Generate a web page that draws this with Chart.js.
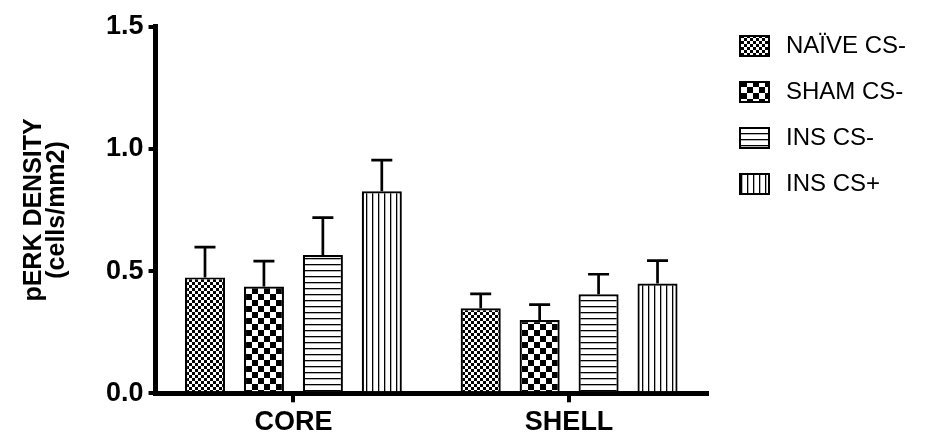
<!DOCTYPE html>
<html lang="en">
  <head>
    <meta charset="UTF-8" />
    <title>pERK density</title>
    <script src="https://cdn.jsdelivr.net/npm/chart.js@4.4.1/dist/chart.umd.min.js"></script>
    <style>
      body {
        margin: 0;
        background: #ffffff;
      }
    </style>
  </head>
  <body>
    <canvas id="perkChart" width="940" height="434"></canvas>
    <script>
      // data
      const regions = ["CORE", "SHELL"];
      const groups = ["NAÏVE CS-", "SHAM CS-", "INS CS-", "INS CS+"];
      const naiveMeans = [0.474, 0.348];
      const shamMeans = [0.437, 0.300];
      const insMinusMeans = [0.566, 0.405];
      const insPlusMeans = [0.826, 0.449];
      const naiveErr = [0.124, 0.059];
      const shamErr = [0.104, 0.063];
      const insMinusErr = [0.153, 0.082];
      const insPlusErr = [0.128, 0.094];
      const yTicks = [0, 0.5, 1.0, 1.5];

      const font = "'Liberation Sans', Arial, sans-serif";

      // pattern tiles
      function makeTile(kind) {
        const c = document.createElement("canvas");
        const p = c.getContext("2d");
        const n = kind === "bigCheck" ? 12 : 6;
        c.width = n; c.height = n;
        p.fillStyle = "#fff"; p.fillRect(0, 0, n, n);
        p.fillStyle = "#000";
        if (kind === "fineCheck" || kind === "bigCheck") {
          p.fillRect(0, 0, n / 2, n / 2); p.fillRect(n / 2, n / 2, n / 2, n / 2);
        } else if (kind === "hLines") {
          p.fillRect(0, 0, n, 1.3);
        } else {
          p.fillRect(0, 0, 1.3, n);
        }
        return c;
      }

      // little legend swatch: blank margin on the left, then the hatched box
      function makeSwatch(tile) {
        const c = document.createElement("canvas");
        c.width = 45; c.height = 22;
        const p = c.getContext("2d");
        p.fillStyle = p.createPattern(tile, "repeat");
        p.fillRect(10, 0, 31, 22);
        p.strokeStyle = "#000";
        p.lineWidth = 2;
        p.strokeRect(11, 1, 29, 20);
        return c;
      }

      const seriesMeans = [naiveMeans, shamMeans, insMinusMeans, insPlusMeans];
      const seriesErr = [naiveErr, shamErr, insMinusErr, insPlusErr];
      const fills = ["fineCheck", "bigCheck", "hLines", "vLines"];

      const canvas = document.getElementById("perkChart");
      const ctx = canvas.getContext("2d");

      const datasets = groups.map((g, i) => {
        const tile = makeTile(fills[i]);
        return {
          label: g,
          data: seriesMeans[i],
          errors: seriesErr[i],
          backgroundColor: ctx.createPattern(tile, "repeat"),
          borderColor: "#000",
          borderWidth: 2.2,
          pointStyle: makeSwatch(tile),
          categoryPercentage: 0.855,
          barPercentage: 0.68,
        };
      });

      // upward error bars
      const errorBars = {
        id: "errorBars",
        afterDatasetsDraw(chart) {
          const c = chart.ctx;
          const y = chart.scales.y;
          c.save();
          c.strokeStyle = "#000";
          c.lineWidth = 2.7;
          chart.data.datasets.forEach((ds, i) => {
            chart.getDatasetMeta(i).data.forEach((bar, j) => {
              const top = y.getPixelForValue(ds.data[j] + ds.errors[j]);
              c.beginPath();
              c.moveTo(bar.x, bar.y);
              c.lineTo(bar.x, top);
              c.moveTo(bar.x - 10.5, top);
              c.lineTo(bar.x + 10.5, top);
              c.stroke();
            });
          });
          c.restore();
        },
      };

      new Chart(canvas, {
        type: "bar",
        data: { labels: regions, datasets: datasets },
        plugins: [errorBars],
        options: {
          responsive: false,
          animation: false,
          layout: { padding: { top: 12, left: 10, right: 24, bottom: -8 } },
          plugins: {
            tooltip: { enabled: false },
            legend: {
              position: "right",
              align: "start",
              labels: {
                usePointStyle: true,
                pointStyleWidth: 45,
                boxHeight: 22,
                padding: 22,
                color: "#000",
                font: { family: font, size: 24 },
              },
            },
          },
          scales: {
            x: {
              offset: true,
              border: { color: "#000", width: 5 },
              grid: { offset: false, drawOnChartArea: false, color: "#000", tickLength: 9, lineWidth: 4 },
              ticks: { color: "#000", font: { family: font, size: 27, weight: "bold", lineHeight: 1.1 }, padding: 5 },
            },
            y: {
              min: 0,
              max: 1.5,
              afterBuildTicks: (axis) => {
                axis.ticks = yTicks.map((v) => ({ value: v }));
              },
              border: { color: "#000", width: 5 },
              grid: { drawOnChartArea: false, color: "#000", tickLength: 7, lineWidth: 4 },
              ticks: {
                color: "#000",
                padding: 5,
                font: { family: font, size: 27, weight: "bold", lineHeight: 1.6 },
                callback: (v) => Number(v).toFixed(1),
              },
              title: {
                display: true,
                text: ["pERK DENSITY", "(cells/mm2)"],
                color: "#000",
                padding: { top: 13, bottom: 32 },
                font: { family: font, size: 25, weight: "bold", lineHeight: 0.92 },
              },
            },
          },
        },
      });
    </script>
  </body>
</html>
